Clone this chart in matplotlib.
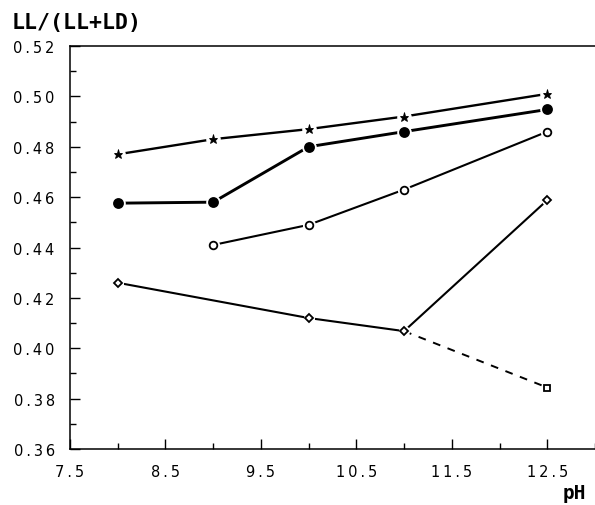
import numpy as np
import matplotlib
matplotlib.use('Agg')
import matplotlib.pyplot as plt
from matplotlib.ticker import MultipleLocator, FixedLocator, FixedFormatter

# values
star_ph = [8.0, 9.0, 10.0, 11.0, 12.5]
star_ratio = [0.477, 0.483, 0.487, 0.492, 0.501]

filled_ph = [8.0, 9.0, 10.0, 11.0, 12.5]
filled_ratio = [0.4576, 0.458, 0.480, 0.486, 0.4948]

open_ph = [9.0, 10.0, 11.0, 12.5]
open_ratio = [0.441, 0.449, 0.463, 0.486]

diamond_ph = [8.0, 10.0, 11.0, 12.5]
diamond_ratio = [0.426, 0.412, 0.4068, 0.4588]

square_ph = [11.0, 12.5]
square_ratio = [0.4068, 0.3844]

x_ticks = [7.5, 8.5, 9.5, 10.5, 11.5, 12.5]
x_labels = ['7.5', '8.5', '9.5', '10.5', '11.5', '12.5']
y_ticks = [0.36, 0.38, 0.40, 0.42, 0.44, 0.46, 0.48, 0.50, 0.52]
y_labels = ['0.36', '0.38', '0.40', '0.42', '0.44', '0.46', '0.48', '0.50', '0.52']

SANS = 'DejaVu Sans'
MONO = 'DejaVu Sans Mono'


def spaced(s):
    return '\u2009'.join(s)


fig = plt.figure(figsize=(5.95, 5.06), dpi=100)
ax = fig.add_axes([70 / 595, 1 - 450 / 506, 525 / 595, 403 / 506])


def series(x, y, marker, ms, lw, mfc='black', ls='-', markevery=None, mew=1.3):
    ax.plot(x, y, color='black', lw=lw, ls=ls, zorder=2,
            dashes=(4, 4) if ls == '--' else (None, None))
    idx = range(len(x)) if markevery is None else markevery
    xs = [x[i] for i in idx]
    ys = [y[i] for i in idx]
    # white halo leaves a small gap between the line and the symbol
    ax.plot(xs, ys, ls='none', marker='o', ms=ms + 3, mfc='white',
            mec='white', zorder=3)
    ax.plot(xs, ys, ls='none', marker=marker, ms=ms, mfc=mfc,
            mec='black', mew=mew, zorder=4)


series(square_ph, square_ratio, 's', 4, 1.4, mfc='white', ls='--', markevery=[1])
series(star_ph, star_ratio, '*', 6.5, 1.7, mew=0.6)
series(filled_ph, filled_ratio, 'o', 6.5, 2.1)
series(open_ph, open_ratio, 'o', 5.5, 1.5, mfc='white')
series(diamond_ph, diamond_ratio, 'D', 4, 1.5, mfc='white')

ax.set_xlim(7.5, 13.0)
ax.set_ylim(0.36, 0.52)

ax.spines['right'].set_visible(False)
for s in ['left', 'bottom', 'top']:
    ax.spines[s].set_linewidth(1.1)

ax.xaxis.set_major_locator(FixedLocator(x_ticks))
ax.xaxis.set_major_formatter(FixedFormatter([spaced(s) for s in x_labels]))
ax.xaxis.set_minor_locator(MultipleLocator(1.0))
ax.yaxis.set_major_locator(FixedLocator(y_ticks))
ax.yaxis.set_major_formatter(FixedFormatter([spaced(s) for s in y_labels]))
ax.yaxis.set_minor_locator(MultipleLocator(0.01))

ax.tick_params(which='both', direction='in', top=False, right=False, width=1.0)
ax.tick_params(which='major', length=7)
ax.tick_params(which='minor', length=4)
ax.tick_params(axis='x', pad=11)
ax.tick_params(axis='y', pad=11)
for lab in ax.get_xticklabels() + ax.get_yticklabels():
    lab.set_fontfamily(SANS)
    lab.set_fontsize(10.5)

fig.text(12 / 595, 1 - 23 / 506, 'LL/(LL+LD)', family=MONO, weight='bold',
         fontsize=15.5, va='center', ha='left')
fig.text(586 / 595, 1 - 494 / 506, 'pH', family=MONO, weight='bold',
         fontsize=14, va='center', ha='right')

fig.savefig('out.png', dpi=100)
